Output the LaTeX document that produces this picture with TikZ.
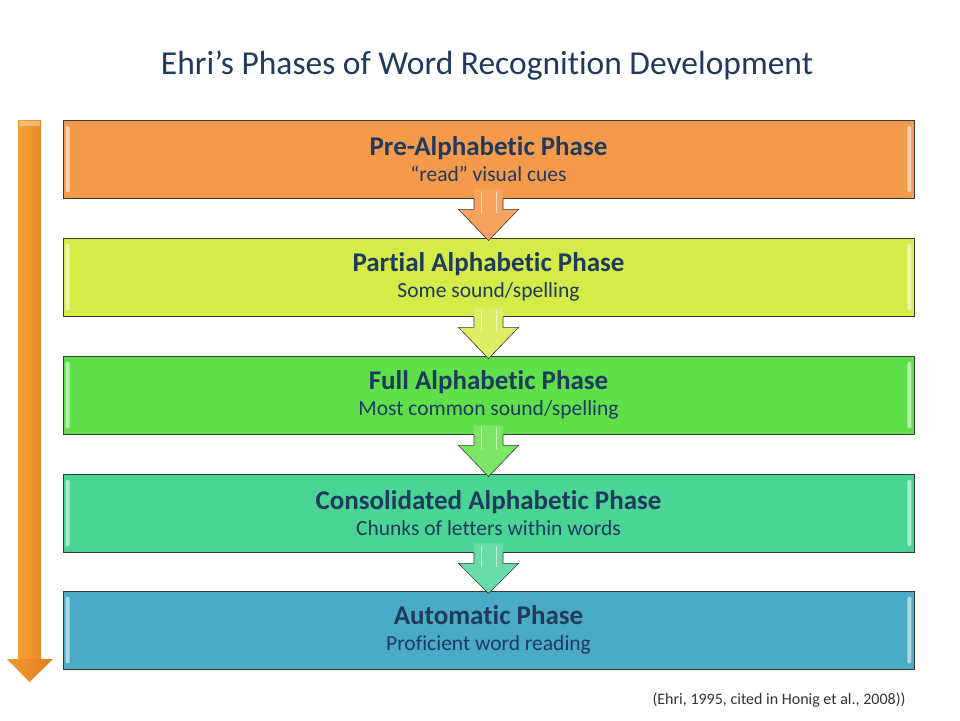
\documentclass[tikz,border=0pt]{standalone}
\usepackage{fontspec}
\setmainfont{Carlito}[Ligatures=NoCommon]
\usetikzlibrary{calc,shadows}
\definecolor{txt}{HTML}{1F3A5F}
\definecolor{boxline}{HTML}{3A3A3A}
\definecolor{cA}{HTML}{F59A4B}
\definecolor{cB}{HTML}{D5EB48}
\definecolor{cC}{HTML}{5FE04A}
\definecolor{cD}{HTML}{4BD594}
\definecolor{cE}{HTML}{4AABC6}
\definecolor{aA}{HTML}{F7A35E}
\definecolor{aB}{HTML}{DCEE66}
\definecolor{aC}{HTML}{7CE566}
\definecolor{aD}{HTML}{68DCA6}
\definecolor{citec}{HTML}{333333}
\definecolor{lL}{HTML}{F8A640}
\definecolor{lM}{HTML}{F3952C}
\definecolor{lR}{HTML}{DC7D22}
\tikzset{
  phase/.style={draw=boxline, line width=0.8pt, minimum width=851pt, minimum height=78pt,
    inner sep=0pt, align=center, text=txt, font=\fontsize{21.5}{26}\selectfont,
    drop shadow={shadow xshift=1pt, shadow yshift=-1.2pt, opacity=0.35}},
  hilite/.style={fill=white, opacity=0.55, rounded corners=1.5pt},
  stripe/.style={draw=white, opacity=0.6, line width=1.8pt, line cap=round},
}
\newcommand{\phasehead}[1]{{\fontsize{27}{26}\selectfont\bfseries #1}}
\newcommand{\highlights}[1]{%
  \fill[hilite] ($(#1.north west)+(3,6)$) rectangle ($(#1.south west)+(7,-6)$);
  \fill[hilite] ($(#1.north east)+(-7,6)$) rectangle ($(#1.south east)+(-3,-6)$);}
\newcommand{\phasearrow}[3]{%
  \fill[#3] ($(#1.south)+(-14.5,-9)$) -- ($(#1.south)+(14.5,-9)$) -- ($(#1.south)+(14.5,11)$)
     -- ($(#1.south)+(30,11)$) -- ($(#2.north)+(0,3)$) -- ($(#1.south)+(-30,11)$)
     -- ($(#1.south)+(-14.5,11)$) -- cycle;
  \draw[boxline, line width=0.6pt, line join=miter] ($(#1.south)+(14.5,0.4)$) -- ($(#1.south)+(14.5,11)$)
     -- ($(#1.south)+(30,11)$) -- ($(#2.north)+(0,3)$) -- ($(#1.south)+(-30,11)$)
     -- ($(#1.south)+(-14.5,11)$) -- ($(#1.south)+(-14.5,0.4)$);
  \draw[stripe] ($(#1.south)+(-7,-6)$) -- ($(#1.south)+(-7,14)$);
  \draw[stripe] ($(#1.south)+(8,-6)$) -- ($(#1.south)+(8,14)$);}
\begin{document}
\begin{tikzpicture}[x=1pt,y=-1pt]
\useasboundingbox (0,0) rectangle (960,720);
\fill[white] (0,0) rectangle (960,720);

\node[text=txt, font=\fontsize{33.5}{38}\selectfont] (title) at (487,66) {Ehri’s Phases of Word Recognition Development};

% left progression arrow
\coordinate (ltop) at (29.5,120);
\coordinate (ltip) at (29.5,682);
\shade[left color=lL, right color=lR, middle color=lM]
  ($(ltop)+(-11.5,0)$) -- ($(ltop)+(11.5,0)$) -- ($(ltip)+(11.5,-23)$) -- ($(ltip)+(23.5,-23)$)
  -- (ltip) -- ($(ltip)+(-22.5,-23)$) -- ($(ltip)+(-11.5,-23)$) -- cycle;
\fill[white, opacity=0.35] ($(ltop)+(-10.5,1)$) rectangle ($(ltop)+(10.5,6)$);
\fill[lR, opacity=0.35] ($(ltip)+(-22.5,-23)$) -- ($(ltip)+(23.5,-23)$) -- (ltip) -- cycle;

\node[phase, fill=cA] (b1) at (488.5,159) {\phasehead{Pre-Alphabetic Phase}\\“read” visual cues};
\node[phase, fill=cB] (b2) at (488.5,277) {\phasehead{Partial Alphabetic Phase}\\Some sound/spelling};
\node[phase, fill=cC] (b3) at (488.5,395) {\phasehead{Full Alphabetic Phase}\\Most common sound/spelling};
\node[phase, fill=cD] (b4) at (488.5,513) {\phasehead{Consolidated Alphabetic Phase}\\Chunks of letters within words};
\node[phase, fill=cE] (b5) at (488.5,630) {\phasehead{Automatic Phase}\\Proficient word reading};

\highlights{b1}\highlights{b2}\highlights{b3}\highlights{b4}\highlights{b5}

\phasearrow{b1}{b2}{aA}
\phasearrow{b2}{b3}{aB}
\phasearrow{b3}{b4}{aC}
\phasearrow{b4}{b5}{aD}

\node[text=citec, font=\fontsize{16}{18}\selectfont, anchor=east] (cite) at (909,700) {(Ehri, 1995, cited in Honig et al., 2008))};
\end{tikzpicture}
\end{document}
